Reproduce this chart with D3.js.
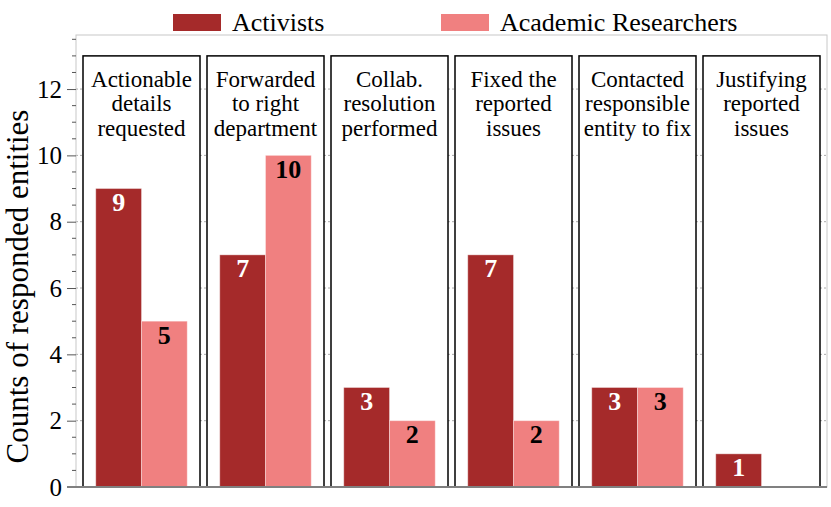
<!DOCTYPE html>
<html>
<head>
<meta charset="utf-8">
<script src="https://cdn.jsdelivr.net/npm/d3@7"></script>
<style>
  html, body { margin: 0; padding: 0; background: #fff; }
  svg { display: block; }
  svg text { font-family: "Liberation Serif", "Tinos", "Times New Roman", "DejaVu Serif", serif; }
</style>
</head>
<body>
<svg id="chart" width="831" height="507"></svg>
<script>
// ---- data ----
const categories = [
  ["Actionable", "details", "requested"],
  ["Forwarded", "to right", "department"],
  ["Collab.", "resolution", "performed"],
  ["Fixed the", "reported", "issues"],
  ["Contacted", "responsible", "entity to fix"],
  ["Justifying", "reported", "issues"]
];
const categoryKeys = categories.map(c => c.join(" "));
const seriesNames = ["Activists", "Academic Researchers"];
const activists = [9, 7, 3, 7, 3, 1];
const academics = [5, 10, 2, 2, 3, 0];
const yTicks = [0, 2, 4, 6, 8, 10, 12];
const yTitle = "Counts of responded entities";

const colors = ["#a52a2a", "#f08080"];
const labelColors = ["#ffffff", "#000000"];

// ---- layout ----
const svg = d3.select("#chart");
const pLeft = 76, pRight = 827, pTop = 35, pBottom = 487;

const x = d3.scaleBand().domain(categoryKeys).range([pLeft, pRight])
  .paddingInner(7 / 124).paddingOuter(7 / 124);
const xs = d3.scaleBand().domain(seriesNames).range([0, x.bandwidth()])
  .paddingInner(0).paddingOuter(0.279);
const y = d3.scaleLinear().domain([0, 13.63]).range([pBottom, pTop]);

// grid lines (dashed) behind boxes
svg.append("g").selectAll("line").data(yTicks.filter(d => d > 0)).join("line")
  .attr("x1", pLeft).attr("x2", pRight)
  .attr("y1", d => y(d)).attr("y2", d => y(d))
  .attr("stroke", "#aaaaaa").attr("stroke-width", 1)
  .attr("stroke-dasharray", "2,2");

// plot frame
svg.append("rect").attr("x", pLeft).attr("y", pTop)
  .attr("width", pRight - pLeft).attr("height", pBottom - pTop)
  .attr("fill", "none").attr("stroke", "#c8c8c8").attr("stroke-width", 1);

// category boxes
const groups = svg.append("g").selectAll("g").data(categoryKeys).join("g")
  .attr("transform", d => `translate(${x(d)},0)`);

groups.append("rect")
  .attr("x", 0).attr("y", y(13))
  .attr("width", x.bandwidth()).attr("height", y(0) - y(13))
  .attr("fill", "#fff").attr("stroke", "#000").attr("stroke-width", 1.5);

// category labels
groups.each(function(d, i) {
  const g = d3.select(this);
  const t = g.append("text")
    .attr("text-anchor", "middle")
    .attr("font-size", 23)
    .attr("fill", "#000");
  categories[i].forEach((line, j) => {
    t.append("tspan").attr("x", x.bandwidth() / 2).attr("y", 86.5 + j * 24.5).text(line);
  });
});

// bars
const seriesValues = [activists, academics];
seriesValues.forEach((vals, s) => {
  groups.each(function(d, i) {
    const v = vals[i];
    if (!v) return;
    const g = d3.select(this);
    g.append("rect")
      .attr("x", xs(seriesNames[s]))
      .attr("y", y(v))
      .attr("width", xs.bandwidth())
      .attr("height", y(0) - y(v))
      .attr("fill", colors[s])
      .attr("stroke", "#ffffff").attr("stroke-opacity", 0.35).attr("stroke-width", 1);
    g.append("text")
      .attr("x", xs(seriesNames[s]) + xs.bandwidth() / 2)
      .attr("y", y(v) + 22.5)
      .attr("text-anchor", "middle")
      .attr("font-size", 26)
      .attr("font-weight", "bold")
      .attr("fill", labelColors[s])
      .text(v);
  });
});

// y axis (ticks + labels)
const minorTicks = d3.range(0, 13.6, 0.5).filter(d => d % 2 !== 0);
svg.append("g").selectAll("line").data(minorTicks).join("line")
  .attr("x1", pLeft - 4).attr("x2", pLeft)
  .attr("y1", d => y(d)).attr("y2", d => y(d))
  .attr("stroke", "#555").attr("stroke-width", 1);

const yAxis = d3.axisLeft(y).tickValues(yTicks).tickSize(9).tickPadding(5).tickFormat(d3.format("d"));
const ya = svg.append("g").attr("transform", `translate(${pLeft},0)`).call(yAxis);
ya.attr("font-family", null).attr("font-size", null);
ya.select(".domain").remove();
ya.selectAll(".tick line").attr("stroke", "#555");
ya.selectAll(".tick text")
  .attr("font-size", 25).attr("fill", "#000");

// bottom axis line
svg.append("line").attr("x1", pLeft - 9).attr("x2", pRight)
  .attr("y1", pBottom).attr("y2", pBottom)
  .attr("stroke", "#808080").attr("stroke-width", 2);

// y title
svg.append("text")
  .attr("transform", `translate(28,286.5) rotate(-90)`)
  .attr("text-anchor", "middle")
  .attr("font-size", 31)
  .attr("fill", "#000")
  .text(yTitle);

// legend
const legendX = [173, 441];
const legend = svg.append("g").selectAll("g").data(seriesNames).join("g")
  .attr("transform", (d, i) => `translate(${legendX[i]},0)`);
legend.append("rect").attr("x", 0).attr("y", 14).attr("width", 48).attr("height", 17)
  .attr("fill", (d, i) => colors[i]);
legend.append("text").attr("x", 59).attr("y", 31)
  .attr("font-size", 26).attr("fill", "#000").text(d => d);
</script>
</body>
</html>
